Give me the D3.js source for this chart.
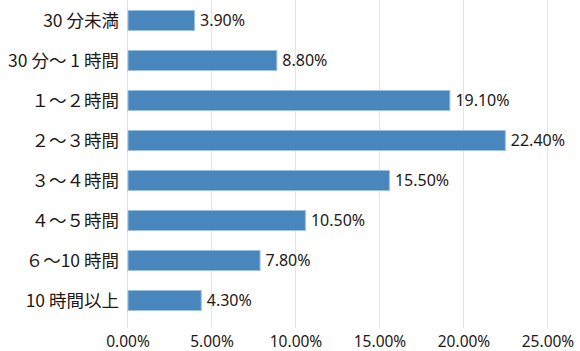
<html>
<head>
<meta charset="utf-8">
<script src="https://cdn.jsdelivr.net/npm/d3@7"></script>
<style>
  body { margin: 0; background: #fff; }
  text { font-family: "Noto Sans", "Noto Sans CJK JP", sans-serif; fill: #231815; }
  .cat { font-size: 17.5px; font-family: "Noto Sans CJK JP", sans-serif; }
  .val { font-size: 16px; }
  .tick text { font-size: 15.5px; font-family: "Noto Sans", sans-serif; fill: #231815; }
</style>
</head>
<body>
<script>
// data
var categories = ["30 分未満", "30 分～ 1 時間", "１～２時間", "２～３時間", "３～４時間", "４～５時間", "６～10 時間", "10 時間以上"];
var values = [3.9, 8.8, 19.1, 22.4, 15.5, 10.5, 7.8, 4.3];
var ticks = [0, 5, 10, 15, 20, 25];

var W = 580, H = 351;

var svg = d3.select("body").append("svg").attr("width", W).attr("height", H);

var x = d3.scaleLinear().domain([0, 25]).range([127.5, 547.5]);
var y = d3.scaleBand().domain(categories).range([0.5, 320.5]).paddingInner(0.5).paddingOuter(0.25);

// gridlines
svg.append("g").selectAll("line").data(ticks).enter().append("line")
  .attr("x1", function(d){ return x(d); })
  .attr("x2", function(d){ return x(d); })
  .attr("y1", 0).attr("y2", 328)
  .attr("stroke", "#e3e3e3").attr("stroke-width", 1);

// x axis labels
var ax = svg.append("g").attr("transform", "translate(0,347)")
  .call(d3.axisBottom(x).tickValues(ticks).tickSize(0).tickPadding(0).tickFormat(function(d){ return d3.format(".2f")(d) + "%"; }));
ax.select(".domain").remove();
ax.selectAll("text").attr("y", 0).attr("dy", 0);

// bars
var rows = categories.map(function(c, i){ return { cat: c, v: values[i] }; });

svg.append("g").selectAll("rect").data(rows).enter().append("rect")
  .attr("x", x(0) + 0.5)
  .attr("y", function(d){ return y(d.cat); })
  .attr("width", function(d){ return x(d.v) - x(0) + 1; })
  .attr("height", y.bandwidth())
  .attr("fill", "#4787bd")
  .attr("stroke", "#9cc0de").attr("stroke-width", 1);

// value labels
svg.append("g").selectAll("text").data(rows).enter().append("text")
  .attr("class", "val")
  .attr("x", function(d){ return x(d.v) + 7; })
  .attr("y", function(d){ return y(d.cat) + y.bandwidth() / 2; })
  .attr("dy", "0.36em")
  .text(function(d){ return d3.format(".2f")(d.v) + "%"; });

// category labels
svg.append("g").selectAll("text").data(rows).enter().append("text")
  .attr("class", "cat")
  .attr("x", 119)
  .attr("y", function(d){ return y(d.cat) + y.bandwidth() / 2; })
  .attr("dy", "0.36em")
  .attr("text-anchor", "end")
  .text(function(d){ return d.cat; });
</script>
</body>
</html>
